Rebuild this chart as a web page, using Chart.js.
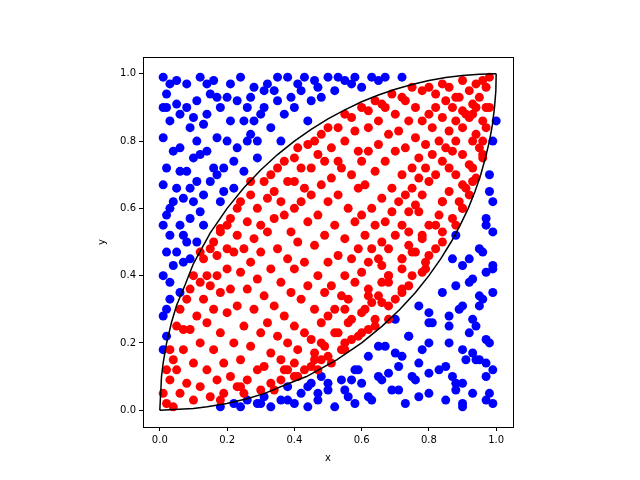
<!DOCTYPE html>
<html>
<head>
<meta charset="utf-8">
<script src="https://cdn.jsdelivr.net/npm/chart.js@4/dist/chart.umd.min.js"></script>
<style>
  body { margin: 0; background: #fff; }
  #wrap { width: 640px; height: 480px; }
</style>
</head>
<body>
<div id="wrap"><canvas id="lensChart" width="640" height="480"></canvas></div>
<script>
// boundary curve samples (upper arc); lower arc is the same points mirrored across y = x
const curveX = [0, 0.005, 0.01, 0.02, 0.035, 0.05, 0.075, 0.1, 0.15, 0.2, 0.25, 0.3, 0.35, 0.4, 0.45, 0.5, 0.55, 0.6, 0.65, 0.7, 0.75, 0.8, 0.85, 0.9, 0.95, 1];
const curveY = [0, 0.100, 0.141, 0.199, 0.262, 0.312, 0.372, 0.436, 0.527, 0.6, 0.661, 0.714, 0.760, 0.8, 0.835, 0.866, 0.893, 0.917, 0.937, 0.954, 0.968, 0.980, 0.989, 0.995, 0.999, 1];

const tickValues = [0, 0.2, 0.4, 0.6, 0.8, 1.0];

// sample points
const cornerPointsTop = [
  [0.01,0.99],[0.02,0.94],[0.01,0.81],[0.03,0.86],[0.02,0.72],[0.01,0.67],[0.03,0.60],[0.01,0.55],[0.02,0.47],[0.01,0.40],
  [0.03,0.33],[0.01,0.28],[0.02,0.22],[0.04,0.43],[0.05,0.91],[0.06,0.78],[0.05,0.66],[0.07,0.52],[0.06,0.35],[0.08,0.97],
  [0.09,0.84],[0.08,0.71],[0.10,0.62],[0.09,0.45],[0.11,0.92],[0.12,0.76],[0.13,0.55],[0.14,0.88],[0.15,0.68],[0.16,0.98],
  [0.17,0.81],[0.18,0.62],[0.19,0.72],[0.20,0.93],[0.21,0.86],[0.22,0.66],[0.23,0.78],[0.24,0.99],[0.25,0.71],[0.26,0.90],
  [0.27,0.82],[0.28,0.96],[0.29,0.75],[0.30,0.88],[0.32,0.97],[0.33,0.84],[0.35,0.92],[0.36,0.80],[0.38,0.99],[0.40,0.90],
  [0.42,0.95],[0.44,0.86],[0.46,0.98],[0.48,0.93],[0.50,0.99],[0.52,0.95],[0.55,0.98],[0.58,0.99],[0.60,0.96],[0.63,0.99],
  [0.67,0.99],[0.72,0.99],[0.04,0.15],[0.02,0.12],[0.03,0.52],[0.07,0.63],[0.11,0.50],[0.13,0.64],[0.18,0.53],[0.02,0.30],
  [0.04,0.62],[0.06,0.88],[0.07,0.44],[0.09,0.57],[0.10,0.75],[0.12,0.99],[0.13,0.85],[0.15,0.94],[0.16,0.72],[0.18,0.90],
  [0.19,0.65],[0.21,0.97],[0.22,0.74],[0.25,0.86],[0.27,0.93],[0.29,0.80],[0.31,0.90],[0.34,0.95],[0.37,0.88],[0.41,0.97],
  [0.45,0.92],[0.53,0.99],[0.04,0.77],[0.08,0.50],[0.03,0.97],[0.11,0.68],
  [0.02,0.90],[0.05,0.98],[0.06,0.71],[0.03,0.38],[0.05,0.47],[0.08,0.90],[0.10,0.87],[0.11,0.80],[0.14,0.97],[0.14,0.77],
  [0.17,0.93],[0.20,0.80],[0.23,0.92],[0.26,0.80],[0.28,0.86],[0.31,0.95],[0.35,0.99],[0.39,0.93],[0.43,0.99],[0.47,0.96],
  [0.57,0.97],[0.65,0.98],[0.01,0.18],[0.02,0.58],[0.06,0.55],[0.09,0.66],[0.12,0.59],[0.17,0.70],[0.01,0.90]
];
const cornerPointsBottom = [
  [0.99,0.02],[0.97,0.10],[0.98,0.20],[0.96,0.33],[0.99,0.42],[0.97,0.55],[0.99,0.62],[0.98,0.70],[0.95,0.48],[0.94,0.25],
  [0.93,0.05],[0.92,0.38],[0.91,0.15],[0.90,0.60],[0.89,0.30],[0.88,0.08],[0.87,0.45],[0.86,0.20],[0.85,0.03],[0.84,0.35],
  [0.83,0.12],[0.82,0.55],[0.81,0.26],[0.80,0.05],[0.79,0.42],[0.78,0.18],[0.77,0.31],[0.76,0.09],[0.75,0.47],[0.74,0.22],
  [0.73,0.02],[0.72,0.36],[0.71,0.13],[0.70,0.27],[0.69,0.06],[0.68,0.40],[0.67,0.19],[0.66,0.32],[0.65,0.10],[0.64,0.25],
  [0.63,0.03],[0.62,0.16],[0.61,0.30],[0.60,0.08],[0.59,0.22],[0.58,0.12],[0.57,0.27],[0.56,0.04],[0.55,0.18],[0.54,0.09],
  [0.53,0.23],[0.52,0.01],[0.51,0.14],[0.50,0.06],[0.49,0.19],[0.48,0.10],[0.47,0.03],[0.46,0.15],[0.45,0.08],[0.44,0.01],
  [0.43,0.12],[0.42,0.05],[0.41,0.10],[0.40,0.02],[0.38,0.07],[0.37,0.12],[0.36,0.03],[0.34,0.06],[0.33,0.01],[0.31,0.04],
  [0.29,0.02],[0.26,0.03],[0.24,0.01],[0.22,0.02],[1.00,0.86],[0.99,0.80],[0.96,0.76],[0.93,0.68],[0.88,0.52],[0.84,0.62],
  [0.95,0.15],[0.90,0.43],[0.86,0.72],[0.97,0.90],[0.93,0.80],[0.78,0.52],[0.72,0.45],[0.66,0.38],[0.62,0.34],[0.30,0.02],
  [0.62,0.04],[0.88,0.06],[0.44,0.07],[0.57,0.09],[0.75,0.10],[0.99,0.12],[0.85,0.13],[0.94,0.15],[0.72,0.16],[0.90,0.18],
  [0.65,0.19],[0.97,0.21],[0.74,0.22],[0.86,0.25],[0.93,0.27],[0.80,0.29],[0.90,0.31],[0.95,0.34],[0.88,0.37],[0.97,0.41],
  [0.92,0.45],[0.99,0.53],[0.77,0.04],[0.50,0.08],[0.97,0.03],[0.68,0.11],
  [0.90,0.02],[0.98,0.05],[0.71,0.06],[0.38,0.03],[0.47,0.05],[0.90,0.08],[0.87,0.10],[0.80,0.11],[0.97,0.14],[0.77,0.14],
  [0.93,0.17],[0.80,0.20],[0.92,0.23],[0.80,0.26],[0.86,0.28],[0.95,0.31],[0.99,0.35],[0.93,0.39],[0.99,0.43],[0.96,0.47],
  [0.97,0.57],[0.98,0.65],[0.18,0.01],[0.58,0.02],[0.55,0.06],[0.66,0.09],[0.59,0.12],[0.70,0.17],[0.90,0.01]
];
const lensPoints = [
  [0.01,0.05],[0.02,0.02],[0.03,0.09],[0.04,0.01],[0.05,0.12],[0.06,0.05],[0.07,0.18],[0.08,0.08],[0.09,0.24],[0.10,0.03],
  [0.10,0.14],[0.11,0.28],[0.12,0.07],[0.12,0.20],[0.13,0.33],[0.14,0.12],[0.14,0.26],[0.15,0.04],[0.15,0.37],[0.16,0.18],
  [0.16,0.30],[0.17,0.09],[0.17,0.40],[0.18,0.23],[0.18,0.35],[0.19,0.14],[0.19,0.05],[0.20,0.29],[0.20,0.42],[0.21,0.10],
  [0.21,0.36],[0.22,0.20],[0.22,0.47],[0.23,0.07],[0.23,0.31],[0.24,0.41],[0.24,0.15],[0.25,0.25],[0.25,0.48],[0.26,0.09],
  [0.26,0.36],[0.27,0.19],[0.27,0.44],[0.28,0.30],[0.28,0.51],[0.29,0.12],[0.29,0.39],[0.30,0.23],[0.30,0.47],[0.31,0.13],
  [0.31,0.34],[0.32,0.53],[0.32,0.26],[0.33,0.42],[0.33,0.17],[0.34,0.57],[0.34,0.31],[0.35,0.22],[0.35,0.48],[0.36,0.38],
  [0.36,0.15],[0.37,0.58],[0.37,0.28],[0.38,0.45],[0.38,0.20],[0.39,0.53],[0.39,0.35],[0.40,0.25],[0.40,0.60],[0.40,0.42],
  [0.41,0.18],[0.41,0.50],[0.42,0.33],[0.42,0.62],[0.43,0.23],[0.43,0.44],[0.44,0.56],[0.44,0.37],[0.45,0.21],[0.45,0.64],
  [0.46,0.30],[0.46,0.49],[0.47,0.40],[0.47,0.58],[0.48,0.26],[0.48,0.67],[0.49,0.35],[0.49,0.52],[0.50,0.44],[0.50,0.28],
  [0.50,0.62],[0.51,0.37],[0.51,0.69],[0.52,0.55],[0.52,0.30],[0.53,0.46],[0.53,0.64],[0.54,0.34],[0.54,0.72],[0.55,0.51],
  [0.55,0.40],[0.56,0.60],[0.56,0.33],[0.57,0.45],[0.57,0.70],[0.58,0.38],[0.58,0.56],[0.59,0.66],[0.59,0.48],[0.60,0.41],
  [0.60,0.74],[0.60,0.58],[0.61,0.52],[0.61,0.67],[0.62,0.44],[0.62,0.77],[0.63,0.60],[0.63,0.48],[0.64,0.71],[0.64,0.55],
  [0.65,0.45],[0.65,0.79],[0.66,0.63],[0.66,0.50],[0.67,0.74],[0.67,0.56],[0.68,0.82],[0.68,0.48],[0.69,0.66],[0.69,0.59],
  [0.70,0.77],[0.70,0.52],[0.71,0.62],[0.71,0.83],[0.72,0.70],[0.72,0.55],[0.73,0.78],[0.73,0.64],[0.74,0.86],[0.74,0.59],
  [0.75,0.72],[0.75,0.66],[0.76,0.81],[0.76,0.61],[0.77,0.75],[0.77,0.69],[0.78,0.86],[0.78,0.64],[0.79,0.79],[0.79,0.72],
  [0.80,0.68],[0.80,0.88],[0.81,0.76],[0.81,0.84],[0.82,0.70],[0.82,0.90],[0.83,0.80],[0.84,0.74],[0.84,0.87],[0.85,0.92],
  [0.85,0.78],[0.86,0.83],[0.87,0.77],[0.87,0.90],[0.88,0.86],[0.88,0.80],[0.89,0.93],[0.90,0.84],[0.90,0.89],[0.91,0.88],
  [0.92,0.95],[0.92,0.87],[0.93,0.91],[0.94,0.97],[0.94,0.90],[0.95,0.93],[0.96,0.98],[0.97,0.96],[0.98,0.99],
  [0.05,0.25],[0.08,0.33],[0.10,0.40],[0.13,0.45],[0.16,0.50],[0.20,0.55],[0.23,0.60],[0.27,0.64],[0.31,0.68],[0.35,0.72],
  [0.40,0.75],[0.44,0.79],[0.48,0.82],[0.53,0.84],[0.57,0.87],[0.62,0.89],[0.66,0.91],[0.72,0.93],[0.78,0.95],[0.84,0.97],
  [0.90,0.98],[0.25,0.05],[0.33,0.08],[0.40,0.10],[0.45,0.13],[0.50,0.16],[0.55,0.20],[0.60,0.23],[0.64,0.27],[0.68,0.31],
  [0.72,0.35],[0.75,0.40],[0.79,0.44],[0.82,0.48],[0.84,0.53],[0.87,0.57],[0.89,0.62],[0.91,0.66],[0.93,0.72],[0.95,0.78],
  [0.97,0.84],[0.98,0.90],
  [0.03,0.18],[0.06,0.30],[0.07,0.24],[0.09,0.36],[0.12,0.38],[0.12,0.47],[0.14,0.40],[0.15,0.48],[0.17,0.46],[0.18,0.54],
  [0.20,0.48],[0.21,0.57],[0.23,0.52],[0.24,0.62],[0.26,0.56],[0.27,0.68],[0.29,0.60],[0.30,0.55],[0.32,0.63],[0.33,0.70],
  [0.34,0.65],[0.36,0.62],[0.37,0.74],[0.38,0.68],[0.40,0.68],[0.41,0.78],[0.42,0.72],[0.43,0.66],[0.45,0.72],[0.46,0.80],
  [0.47,0.76],[0.49,0.74],[0.50,0.84],[0.51,0.78],[0.53,0.74],[0.55,0.88],[0.55,0.80],[0.58,0.83],[0.59,0.77],[0.60,0.90],
  [0.62,0.84],[0.64,0.92],[0.65,0.86],[0.67,0.90],[0.69,0.94],[0.70,0.88],[0.73,0.92],[0.75,0.96],[0.76,0.90],[0.80,0.96],
  [0.82,0.94],[0.86,0.96],[0.88,0.93],
  [0.18,0.03],[0.30,0.06],[0.24,0.07],[0.36,0.09],[0.38,0.12],[0.47,0.12],[0.40,0.14],[0.48,0.15],[0.46,0.17],[0.54,0.18],
  [0.48,0.20],[0.57,0.21],[0.52,0.23],[0.62,0.24],[0.56,0.26],[0.68,0.27],[0.60,0.29],[0.55,0.30],[0.63,0.32],[0.70,0.33],
  [0.65,0.34],[0.62,0.36],[0.74,0.37],[0.68,0.38],[0.68,0.40],[0.78,0.41],[0.72,0.42],[0.66,0.43],[0.72,0.45],[0.80,0.46],
  [0.76,0.47],[0.74,0.49],[0.84,0.50],[0.78,0.51],[0.74,0.53],[0.88,0.55],[0.80,0.55],[0.83,0.58],[0.77,0.59],[0.90,0.60],
  [0.84,0.62],[0.92,0.64],[0.86,0.65],[0.90,0.67],[0.94,0.69],[0.88,0.70],[0.92,0.73],[0.96,0.75],[0.90,0.76],[0.96,0.80],
  [0.94,0.82],[0.96,0.86],[0.93,0.88]
];

const allPoints = cornerPointsTop.concat(cornerPointsBottom, lensPoints);

// inside both quarter circles -> red, otherwise blue
function insideLens(x, y) {
  return y < Math.sqrt(2 * x - x * x) && y > 1 - Math.sqrt(1 - x * x);
}

const redPts = [];
const bluePts = [];
allPoints.forEach(([x, y]) => {
  (insideLens(x, y) ? redPts : bluePts).push({ x, y });
});

const upperArc = curveX.map((x, i) => ({ x, y: curveY[i] }));
const lowerArc = curveX.map((x, i) => ({ x: curveY[i], y: x }));

const font = { family: 'DejaVu Sans', size: 10 };

// full box around the plot area, like matplotlib spines
const frameBox = {
  id: 'frameBox',
  afterDraw(chart) {
    const { ctx, chartArea: a } = chart;
    ctx.save();
    ctx.strokeStyle = '#000';
    ctx.lineWidth = 1;
    ctx.strokeRect(a.left + 0.5, a.top + 0.5, a.right - a.left, a.bottom - a.top);
    ctx.restore();
  },
};

const axisCommon = {
  type: 'linear',
  min: -0.05,
  max: 1.05,
  border: { display: true, color: '#000', width: 1 },
  grid: { display: true, drawOnChartArea: false, drawTicks: true, tickLength: 4, color: '#000' },
  afterBuildTicks: (axis) => { axis.ticks = tickValues.map((v) => ({ value: v })); },
  ticks: { color: '#000', font, callback: (v) => v.toFixed(1), padding: 3 },
};

new Chart(document.getElementById('lensChart').getContext('2d'), {
  type: 'scatter',
  data: {
    datasets: [
      { data: bluePts, backgroundColor: '#0000ff', borderWidth: 0, pointRadius: 4.5, order: 3 },
      { data: redPts, backgroundColor: '#ff0000', borderWidth: 0, pointRadius: 4.5, order: 2 },
      { data: lowerArc, showLine: true, borderColor: '#000', borderWidth: 1.5, pointRadius: 0, fill: false, order: 1 },
      { data: upperArc, showLine: true, borderColor: '#000', borderWidth: 1.5, pointRadius: 0, fill: false, order: 1 },
    ],
  },
  options: {
    responsive: false,
    animation: false,
    layout: { padding: { left: 92, top: 57, right: 127, bottom: 12 } },
    plugins: { legend: { display: false }, tooltip: { enabled: false } },
    scales: {
      x: {
        ...axisCommon,
        position: 'bottom',
        title: { display: true, text: 'x', color: '#000', font, padding: { top: 6 } },
        afterFit: (s) => { s.height = 41; },
      },
      y: {
        ...axisCommon,
        position: 'left',
        title: { display: true, text: 'y', color: '#000', font, padding: { bottom: 6 } },
        afterFit: (s) => { s.width = 51; },
      },
    },
  },
  plugins: [frameBox],
});
</script>
</body>
</html>
